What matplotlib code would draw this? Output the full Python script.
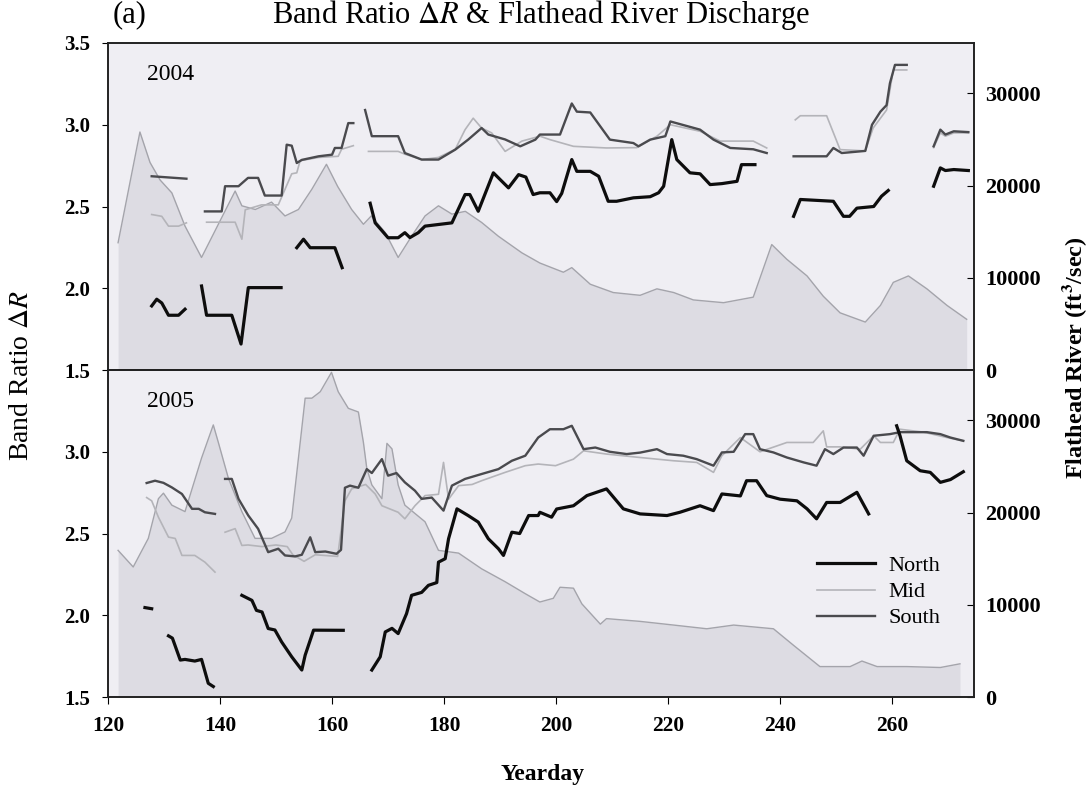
import numpy as np
import matplotlib.pyplot as plt

nan = np.nan

# ---- 2004 ----
q04_day = [121.8, 125.7, 127.5, 129.3, 131.4, 133.75, 136.7, 142.7, 143.9, 146.3, 149.2, 151.6, 154.0,
           156.4, 159.0, 161.0, 163.5, 165.6, 167.0, 169.5, 171.8, 174.2, 176.6, 179.0, 181.4, 183.8,
           186.7, 189.7, 193.9, 197.1, 201.3, 202.8, 206.1, 210.2, 215.0, 218.0, 221.0, 224.5, 229.9,
           235.2, 238.5, 241.2, 244.8, 247.7, 250.7, 255.2, 257.9, 260.2, 262.9, 266.2, 269.8, 273.3]
q04 = [13800, 25800, 22500, 20600, 19200, 15600, 12200, 19400, 17800, 17400, 18200, 16700, 17400,
       19600, 22300, 19900, 17400, 15800, 16700, 14900, 12200, 14500, 16700, 17800, 16900, 17200,
       16000, 14500, 12700, 11600, 10600, 11100, 9300, 8400, 8100, 8800, 8400, 7600, 7300,
       7900, 13600, 12000, 10200, 8000, 6200, 5200, 7000, 9500, 10200, 8800, 7000, 5500]

n04_day = [127.8, 128.7, 129.6, 130.8, 132.6, 133.75, nan,
           136.7, 137.6, 142.1, 143.75, 145.05, 150.9, nan,
           153.7, 154.9, 156.1, 160.5, 161.8, nan,
           166.8, 167.7, 170.0, 171.8, 173.0, 173.9, 175.4, 176.6, 181.4, 183.75, 184.6, 186.1, 188.8,
           191.5, 193.3, 194.6, 195.9, 197.1, 198.9, 200.1, 201.0, 202.8, 203.7, 206.1, 207.6, 209.3,
           210.8, 213.8, 216.8, 218.3, 219.2, 220.65, 221.55, 223.9, 225.7, 227.5, 229.6, 232.3, 233.1,
           235.5, nan,
           242.4, 243.6, 249.5, 251.3, 252.4, 253.7, 256.7, 258.1, 259.3, nan,
           267.4, 268.6, 269.5, 271.0, 273.6]
n04 = [1.892, 1.933, 1.91, 1.835, 1.835, 1.872, nan,
       2.014, 1.835, 1.835, 1.659, 2.004, 2.004, nan,
       2.248, 2.30, 2.248, 2.248, 2.126, nan,
       2.52, 2.40, 2.309, 2.309, 2.34, 2.31, 2.34, 2.38, 2.40, 2.573, 2.573, 2.471, 2.706,
       2.614, 2.695, 2.68, 2.573, 2.584, 2.584, 2.53, 2.58, 2.787, 2.715, 2.715, 2.685, 2.532,
       2.532, 2.553, 2.56, 2.584, 2.624, 2.909, 2.787, 2.706, 2.70, 2.634, 2.64, 2.654, 2.756,
       2.756, nan,
       2.44, 2.543, 2.532, 2.44, 2.44, 2.49, 2.50, 2.563, 2.598, nan,
       2.624, 2.736, 2.72, 2.726, 2.72]

m04_day = [127.8, 129.6, 130.8, 132.6, 134.0, nan,
           137.6, 142.7, 143.9, 144.5, 147.4, 150.4, 152.8, 153.7, 154.3, 157.6, 161.1, 161.7, 163.8, nan,
           166.5, 171.8, 173.0, 176.0, 179.0, 182.0, 183.75, 185.2, 186.7, 188.5, 190.9, 193.9, 197.1,
           198.9, 203.1, 209.0, 214.4, 218.0, 220.4, 225.7, 229.3, 235.2, 237.6, nan,
           242.7, 243.6, 248.3, 250.7, 255.2, 256.6, 259.0, 260.2, 262.6, nan,
           267.4, 268.6, 269.5, 271.0, 273.6]
m04 = [2.451, 2.44, 2.38, 2.38, 2.40, nan,
       2.404, 2.404, 2.30, 2.48, 2.51, 2.51, 2.70, 2.706, 2.78, 2.80, 2.807, 2.85, 2.872, nan,
       2.837, 2.837, 2.82, 2.787, 2.80, 2.85, 2.97, 3.04, 2.98, 2.95, 2.837, 2.90, 2.93,
       2.909, 2.868, 2.858, 2.86, 2.93, 3.0, 2.96, 2.90, 2.90, 2.858, nan,
       3.03, 3.055, 3.055, 2.848, 2.84, 2.98, 3.09, 3.335, 3.335, nan,
       2.86, 2.95, 2.93, 2.95, 2.95]

s04_day = [127.8, 134.0, nan,
           137.3, 140.3, 140.9, 143.3, 145.0, 146.8, 148.0, 151.0, 151.9, 152.8, 153.7, 154.6, 157.6,
           160.0, 160.5, 161.7, 162.9, 163.8, nan,
           165.9, 167.1, 171.8, 173.0, 176.0, 179.0, 182.0, 184.3, 186.7, 187.9, 190.9, 193.6, 196.3,
           197.1, 200.7, 202.8, 203.7, 206.1, 209.6, 213.8, 214.7, 216.8, 219.5, 220.4, 225.7, 228.1,
           231.1, 235.2, 237.6, nan,
           242.4, 248.3, 249.5, 251.0, 255.2, 256.4, 257.9, 259.0, 259.6, 260.5, 262.6, nan,
           267.4, 268.6, 269.5, 271.0, 273.6]
s04 = [2.685, 2.67, nan,
       2.47, 2.47, 2.624, 2.624, 2.675, 2.675, 2.567, 2.567, 2.878, 2.872, 2.766, 2.785, 2.807,
       2.817, 2.858, 2.858, 3.01, 3.01, nan,
       3.09, 2.93, 2.93, 2.827, 2.787, 2.787, 2.848, 2.909, 2.98, 2.94, 2.91, 2.868, 2.909,
       2.94, 2.94, 3.13, 3.08, 3.075, 2.909, 2.888, 2.868, 2.909, 2.93, 3.02, 2.97, 2.909,
       2.858, 2.85, 2.827, nan,
       2.807, 2.807, 2.858, 2.827, 2.84, 3.0, 3.08, 3.12, 3.254, 3.366, 3.366, nan,
       2.868, 2.97, 2.94, 2.96, 2.955]

# ---- 2005 ----
q05_day = [121.8, 124.5, 127.2, 129.0, 129.9, 131.4, 133.75, 136.7, 138.8, 139.7, 141.5, 143.9,
           146.25, 149.2, 151.6, 152.8, 155.2, 156.4, 157.9, 159.9, 161.1, 162.9, 164.7, 165.6,
           166.2, 167.1, 168.9, 169.8, 170.7, 171.8, 173.0, 176.6, 179.0, 182.6, 186.7, 190.9,
           194.5, 197.1, 199.5, 200.7, 203.1, 204.6, 207.9, 209.0, 215.0, 221.0, 226.9, 231.7,
           238.8, 242.4, 247.1, 252.5, 254.6, 257.3, 262.6, 268.6, 272.1]
q05 = [15900, 14100, 17200, 21500, 22100, 20800, 20100, 25900, 29500, 27600, 23700, 20100,
       17200, 17200, 17900, 19400, 32400, 32400, 33100, 35200, 33100, 31300, 30900, 27600,
       24800, 23000, 21500, 27500, 26900, 23000, 20800, 19000, 15900, 15600, 13900, 12500,
       11200, 10300, 10700, 11900, 11800, 10100, 7900, 8500, 8200, 7800, 7400, 7800,
       7400, 5600, 3300, 3300, 3900, 3300, 3300, 3200, 3600]

n05_day = [126.6, 127.8, nan,
           130.8, 131.5, 132.9, 133.75, 135.5, 136.7, 137.9, 138.8, nan,
           143.9, 145.7, 146.5, 147.5, 148.6, 149.8, 151.0, 152.8, 154.6, 155.2, 156.7, 162.0, nan,
           167.1, 168.6, 169.5, 170.7, 171.8, 173.3, 174.2, 176.0, 177.2, 178.7, 179.0, 180.2, 180.8,
           182.3, 184.3, 186.1, 187.9, 189.7, 190.6, 192.1, 193.5, 195.1, 196.8, 197.1, 199.2, 200.1,
           203.1, 205.5, 209.0, 212.0, 215.0, 219.8, 222.1, 225.7, 228.1, 229.6, 232.9, 234.0, 235.8,
           237.6, 240.0, 243.0, 244.8, 246.5, 248.3, 250.7, 253.7, 255.8, nan,
           260.8, 261.4, 262.6, 265.0, 266.8, 268.6, 270.4, 272.7]
n05 = [2.047, 2.04, nan,
       1.874, 1.86, 1.726, 1.73, 1.72, 1.73, 1.584, 1.564, nan,
       2.122, 2.091, 2.03, 2.02, 1.919, 1.91, 1.837, 1.746, 1.665, 1.756, 1.909, 1.908, nan,
       1.665, 1.746, 1.898, 1.92, 1.888, 2.01, 2.122, 2.14, 2.183, 2.2, 2.325, 2.346, 2.468,
       2.651, 2.61, 2.57, 2.468, 2.407, 2.366, 2.508, 2.50, 2.61, 2.61, 2.63, 2.60, 2.65,
       2.67, 2.732, 2.773, 2.651, 2.62, 2.61, 2.63, 2.67, 2.64, 2.742, 2.73, 2.823, 2.823,
       2.732, 2.71, 2.70, 2.651, 2.59, 2.69, 2.69, 2.752, 2.62, nan,
       3.159, 3.098, 2.945, 2.884, 2.874, 2.813, 2.83, 2.878]

m05_day = [126.9, 127.8, 129.0, 130.8, 132.0, 133.2, 135.5, 137.3, 139.1, nan,
           140.9, 142.7, 143.9, 145.0, 147.5, 150.0, 152.0, 153.0, 155.0, 157.0, 161.0, 162.3, 163.5,
           166.0, 167.7, 168.9, 171.8, 173.0, 174.8, 176.6, 179.0, 179.9, 180.8, 182.6, 185.0, 186.7,
           190.9, 194.5, 196.8, 199.9, 203.1, 204.9, 209.0, 215.0, 221.0, 225.1, 228.1, 229.6, 232.9,
           236.4, 241.2, 245.9, 247.7, 248.3, 250.7, 254.3, 256.7, 257.9, 260.2, 261.4, 265.6, 269.8,
           272.7]
m05 = [2.72, 2.70, 2.60, 2.478, 2.47, 2.366, 2.366, 2.325, 2.264, nan,
       2.508, 2.53, 2.427, 2.43, 2.42, 2.43, 2.42, 2.37, 2.33, 2.37, 2.36, 2.70, 2.773,
       2.80, 2.742, 2.67, 2.63, 2.59, 2.67, 2.732, 2.74, 2.935, 2.71, 2.793, 2.80, 2.823,
       2.874, 2.915, 2.925, 2.915, 2.955, 3.006, 2.986, 2.965, 2.945, 2.935, 2.874, 2.976, 3.087,
       3.0, 3.057, 3.057, 3.128, 3.03, 3.03, 3.016, 3.098, 3.057, 3.057, 3.138, 3.12, 3.087,
       3.067]

s05_day = [126.9, 128.4, 129.9, 131.4, 133.2, 135.0, 136.2, 137.3, 139.1, nan,
           140.9, 142.1, 143.3, 145.05, 146.8, 148.6, 150.4, 151.6, 153.4, 154.6, 156.1, 157.0, 158.8,
           160.8, 161.6, 162.3, 163.2, 164.7, 166.2, 167.1, 168.9, 170.0, 171.5, 173.0, 174.8, 176.0,
           177.8, 179.9, 181.4, 183.75, 186.7, 189.7, 192.1, 194.5, 196.8, 198.9, 201.3, 202.8, 204.9,
           207.0, 209.6, 212.6, 215.0, 218.0, 219.8, 222.7, 225.1, 228.1, 229.6, 231.7, 233.75, 235.2,
           236.4, 238.8, 241.2, 244.2, 246.5, 248.0, 249.5, 251.3, 253.7, 254.9, 256.7, 259.6, 261.4,
           266.2, 268.6, 270.4, 272.7]
s05 = [2.809, 2.823, 2.81, 2.782, 2.742, 2.651, 2.651, 2.63, 2.62, nan,
       2.834, 2.834, 2.712, 2.61, 2.529, 2.386, 2.407, 2.366, 2.36, 2.37, 2.477, 2.386, 2.39,
       2.376, 2.40, 2.78, 2.793, 2.78, 2.894, 2.87, 2.955, 2.854, 2.87, 2.813, 2.762, 2.712,
       2.72, 2.64, 2.793, 2.834, 2.864, 2.894, 2.945, 2.976, 3.087, 3.138, 3.138, 3.159, 3.016,
       3.026, 3.0, 2.986, 2.995, 3.016, 2.986, 2.976, 2.955, 2.915, 2.996, 3.0, 3.108, 3.108,
       3.016, 2.996, 2.965, 2.935, 2.915, 3.016, 2.986, 3.026, 3.026, 2.976, 3.098, 3.108, 3.12,
       3.12, 3.108, 3.087, 3.067]

years = ["2004", "2005"]

plt.rcParams['font.family'] = ['Liberation Serif', 'DejaVu Serif']
plt.rcParams['mathtext.fontset'] = 'stix'

bg = '#efeef3'
fill_col = '#dddce3'
north_col = '#0d0d0d'
mid_col = '#b4b4b9'
south_col = '#4a4a4e'

fig = plt.figure(figsize=(10.92, 7.9), dpi=100)
ax_top = fig.add_axes([0.0989, 0.5316, 0.7930, 0.4140])
ax_bot = fig.add_axes([0.0989, 0.1177, 0.7930, 0.4139])

panels = [
    (ax_top, q04_day, q04, n04_day, n04, m04_day, m04, s04_day, s04, years[0]),
    (ax_bot, q05_day, q05, n05_day, n05, m05_day, m05, s05_day, s05, years[1]),
]

for i, (ax, qd, q, nd, n, md, m, sd, s, yr) in enumerate(panels):
    ax2 = ax.twinx()
    ax.set_zorder(ax2.get_zorder() + 1)
    ax.patch.set_visible(False)
    ax2.patch.set_visible(True)
    ax2.set_facecolor(bg)

    ax2.fill_between(qd, 0, q, color=fill_col, lw=0)
    ax2.plot(qd, q, color='#a4a4ab', lw=1.0)
    ax2.set_ylim(0, 35450)
    ax2.set_yticks([0, 10000, 20000, 30000])
    ax2.tick_params(axis='y', direction='in', length=5, pad=8, labelsize=16)
    for lab in ax2.get_yticklabels():
        lab.set_fontweight('bold')

    ax.plot(md, m, color=mid_col, lw=1.2, label='Mid')
    ax.plot(sd, s, color=south_col, lw=1.7, label='South')
    ax.plot(nd, n, color=north_col, lw=2.3, label='North')

    ax.set_xlim(120, 274.6)
    ax.set_ylim(1.5, 3.5)
    if i == 0:
        ax.set_yticks([1.5, 2.0, 2.5, 3.0, 3.5])
        ax.set_xticks([])
        ax2.set_xticks([])
    else:
        ax.set_yticks([1.5, 2.0, 2.5, 3.0])
        ax.set_xticks([120, 140, 160, 180, 200, 220, 240, 260])
    ax.set_yticklabels([f"{v:.1f}" for v in ax.get_yticks()], fontweight='bold')
    ax.tick_params(axis='y', direction='out', length=4, pad=9, labelsize=15)
    ax.tick_params(axis='x', direction='out', length=5, pad=9, labelsize=15.5)
    for lab in ax.get_xticklabels():
        lab.set_fontweight('bold')
    for sp in list(ax.spines.values()) + list(ax2.spines.values()):
        sp.set_linewidth(1.2)
        sp.set_color('#222222')

    ax.text(0.072, 0.905, yr, transform=ax.transAxes, ha='center', va='center', fontsize=17)

handles, labels = ax_bot.get_legend_handles_labels()
order = [labels.index('North'), labels.index('Mid'), labels.index('South')]
ax_bot.legend([handles[k] for k in order], [labels[k] for k in order],
              loc='center left', bbox_to_anchor=(0.819, 0.321), frameon=False,
              fontsize=16, handlelength=2.6, handletextpad=0.6, labelspacing=0.25,
              borderpad=0, borderaxespad=0)

fig.text(0.495, 0.981, 'Band Ratio $\\mathit{\\Delta R}$ & Flathead River Discharge',
         ha='center', va='center', fontsize=22)
fig.text(0.119, 0.981, '(a)', ha='center', va='center', fontsize=22)
fig.text(0.020, 0.525, 'Band Ratio $\\Delta R$', rotation=90, ha='center', va='center', fontsize=20)
fig.text(0.984, 0.547, 'Flathead River (ft$^{\\mathbf{3}}$/sec)', rotation=90, ha='center',
         va='center', fontsize=17.5, fontweight='bold')
fig.text(0.497, 0.019, 'Yearday', ha='center', va='center', fontsize=17, fontweight='bold')

fig.savefig('out.png', dpi=100, facecolor='white')
